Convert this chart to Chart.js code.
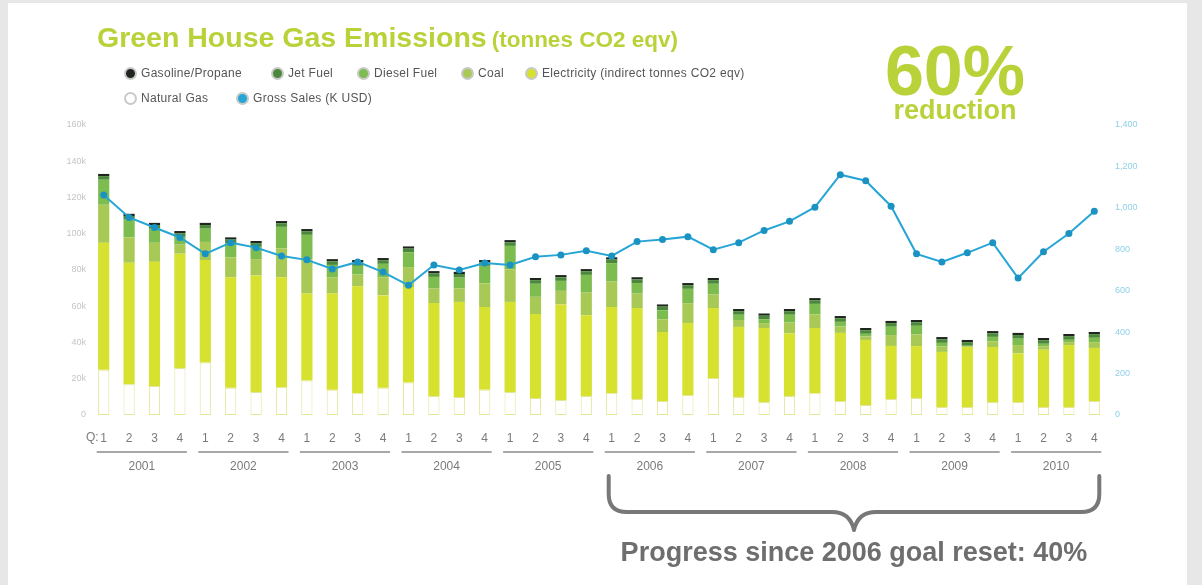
<!DOCTYPE html>
<html>
<head>
<meta charset="utf-8">
<title>Green House Gas Emissions</title>
<script src="https://cdn.jsdelivr.net/npm/chart.js@4.4.1/dist/chart.umd.min.js"></script>
<style>
  body { margin: 0; width: 1202px; height: 585px; background: #e7e7e7; overflow: hidden; font-family: "Liberation Sans", Arial, sans-serif; position: relative; }
  #tarjeta { position: absolute; left: 8px; top: 3px; width: 1179px; height: 582px; background: #fff; }
  #grafico { position: absolute; left: 0; top: 0; }
  .titulo { position: absolute; left: 97px; top: 21px; color: #b9d23a; font-weight: bold; font-size: 28.5px; white-space: nowrap; }
  .titulo small { font-size: 22.5px; margin-left: 5px; }
  .grande { position: absolute; left: 870px; width: 170px; text-align: center; color: #b9d23a; font-weight: bold; white-space: nowrap; }
  #leyenda .item { position: absolute; display: flex; align-items: center; font-size: 12px; letter-spacing: 0.3px; color: #555; white-space: nowrap; }
  #leyenda .marca { width: 9px; height: 9px; border-radius: 50%; border: 2px solid #c9c9c9; margin-right: 4px; box-sizing: content-box; }
</style>
</head>
<body>
<div id="tarjeta"></div>
<canvas id="grafico" width="1202" height="585"></canvas>
<div class="titulo">Green House Gas Emissions<small>(tonnes CO2 eqv)</small></div>
<div class="grande" style="top:36px;font-size:70px;line-height:70px;">60%</div>
<div class="grande" style="top:97px;font-size:27px;line-height:27px;">reduction</div>
<div id="leyenda"></div>

<script>
// datos (miles de toneladas CO2 eqv por trimestre, 2001 Q1 .. 2010 Q4)
var anios = ['2001', '2002', '2003', '2004', '2005', '2006', '2007', '2008', '2009', '2010'];
var trimestres = ['1', '2', '3', '4'];

var gasNatural = [25, 17, 16, 26, 29, 15, 12.7, 15.5, 19, 14, 12, 15, 18, 10.5, 10, 14, 12.7, 9.4, 8.3, 10.5,
  12, 8.8, 7.7, 11, 20.4, 10, 7.2, 10.5, 12, 7.7, 5.5, 8.8, 9.4, 4.4, 4.4, 7.2, 7.2, 4.4, 4.4, 7.7];
var electricidad = [70, 67, 68.5, 63, 56.5, 61, 64.3, 60.5, 48, 53, 59, 51, 52.6, 51.3, 52.4, 45.6, 49.7, 46.3, 52.7, 44.5,
  47.6, 50.2, 38.1, 39.7, 38.6, 38.6, 40.8, 34.5, 36, 37.6, 35.9, 29.3, 28.6, 30.4, 33.1, 30.3, 26.8, 31.6, 34.2, 29.3];
var carbon = [21, 14, 10.5, 5, 10, 11, 9, 16, 19, 9, 6.5, 10, 11, 8, 7.5, 13, 18, 9.5, 7.5, 12.5,
  14, 8, 7, 11, 7.5, 3.8, 2.7, 6, 7.5, 3.5, 2, 6, 6.5, 3, 0.4, 3.2, 4.6, 1.9, 1.6, 3.2];
var diesel = [13.8, 9.8, 7.8, 4.3, 7.3, 7.8, 6.8, 11.8, 13.4, 6.8, 4.8, 7.4, 8.2, 6.4, 5.9, 9.7, 12.9, 7.2, 5.5, 9.8,
  10.2, 5.8, 5, 7.9, 5.9, 2.9, 2.1, 4.3, 5.8, 2.6, 1.4, 4.6, 4.7, 2, 0.3, 2.4, 3.5, 1.4, 1.3, 2.4];
var combustibleAvion = [2, 2, 2, 2, 2, 2, 2, 2, 2, 2, 2, 2, 2, 2, 2, 2, 2, 2, 2, 2,
  2, 2, 2, 2, 2, 2, 2, 2, 2, 2, 2, 2, 2, 2, 2, 2, 2, 2, 2, 2];
var gasolina = [1.2, 1.2, 1.2, 1.2, 1.2, 1.2, 1.2, 1.2, 1.2, 1.2, 1.2, 1.2, 1.2, 1.2, 1.2, 1.2, 1.2, 1.2, 1.2, 1.2,
  1.2, 1.2, 1.2, 1.2, 1.2, 1.2, 1.2, 1.2, 1.2, 1.2, 1.2, 1.2, 1.2, 1.2, 1.2, 1.2, 1.2, 1.2, 1.2, 1.2];
// ventas brutas (K USD), eje derecho
var ventasBrutas = [1062, 954, 905, 857, 778, 832, 808, 768, 749, 705, 739, 690, 626, 724, 700, 734, 724, 764, 773, 793,
  768, 837, 847, 861, 798, 832, 891, 935, 1003, 1160, 1131, 1008, 778, 739, 783, 832, 661, 788, 876, 984];

var ticksIzquierda = ['0', '20k', '40k', '60k', '80k', '100k', '120k', '140k', '160k'];
var ticksDerecha = ['0', '200', '400', '600', '800', '1,000', '1,200', '1,400'];

var textoProgreso = 'Progress since 2006 goal reset: 40%';

// etiquetas del eje x: 1 2 3 4 por cada año
var etiquetas = [];
anios.forEach(function (a) {
  trimestres.forEach(function (t) { etiquetas.push(t); });
});

var colores = {
  gasolina: '#1e261e',
  avion: '#4b883b',
  diesel: '#7dbc4e',
  carbon: '#a9c957',
  electricidad: '#d7e12f',
  gasNatural: '#ffffff',
  ventas: '#27a6d6'
};

// leyenda en html (posiciones a mano para que coincida con la imagen)
var itemsLeyenda = [
  { texto: 'Gasoline/Propane', color: colores.gasolina, x: 124, y: 66 },
  { texto: 'Jet Fuel', color: colores.avion, x: 271, y: 66 },
  { texto: 'Diesel Fuel', color: colores.diesel, x: 357, y: 66 },
  { texto: 'Coal', color: colores.carbon, x: 461, y: 66 },
  { texto: 'Electricity (indirect tonnes CO2 eqv)', color: colores.electricidad, x: 525, y: 66 },
  { texto: 'Natural Gas', color: colores.gasNatural, x: 124, y: 91 },
  { texto: 'Gross Sales (K USD)', color: colores.ventas, x: 236, y: 91 }
];
var leyenda = document.getElementById('leyenda');
itemsLeyenda.forEach(function (it) {
  var d = document.createElement('div');
  d.className = 'item';
  d.style.left = it.x + 'px';
  d.style.top = it.y + 'px';
  d.innerHTML = '<span class="marca" style="background:' + it.color + '"></span>' + it.texto;
  leyenda.appendChild(d);
});

// años, llave y texto de progreso debajo del eje x
var pluginAnios = {
  id: 'pluginAnios',
  afterDraw: function (chart) {
    var ctx = chart.ctx;
    var x = chart.scales.x;
    ctx.save();
    ctx.fillStyle = '#7a7a7a';
    ctx.font = '12px "Liberation Sans", Arial, sans-serif';
    ctx.textBaseline = 'middle';
    ctx.textAlign = 'right';
    ctx.fillText('Q:', x.getPixelForValue(0) - 5, 438);

    ctx.textAlign = 'center';
    ctx.strokeStyle = '#a8a8a8';
    ctx.lineWidth = 2;
    anios.forEach(function (a, i) {
      var x1 = x.getPixelForValue(i * 4) - 7;
      var x2 = x.getPixelForValue(i * 4 + 3) + 7;
      ctx.beginPath();
      ctx.moveTo(x1, 452);
      ctx.lineTo(x2, 452);
      ctx.stroke();
      ctx.fillText(a, (x1 + x2) / 2, 467);
    });

    // llave desde 2006 Q1 hasta 2010 Q4
    var izq = x.getPixelForValue(20) - 3;
    var der = x.getPixelForValue(39) + 5;
    var medio = (izq + der) / 2;
    ctx.strokeStyle = '#787878';
    ctx.lineWidth = 4;
    ctx.lineCap = 'round';
    ctx.lineJoin = 'round';
    ctx.beginPath();
    ctx.moveTo(izq, 476);
    ctx.lineTo(izq, 494);
    ctx.quadraticCurveTo(izq, 512, izq + 18, 512);
    ctx.lineTo(medio - 22, 512);
    ctx.quadraticCurveTo(medio - 4, 512, medio, 530);
    ctx.quadraticCurveTo(medio + 4, 512, medio + 22, 512);
    ctx.lineTo(der - 18, 512);
    ctx.quadraticCurveTo(der, 512, der, 494);
    ctx.lineTo(der, 476);
    ctx.stroke();

    ctx.fillStyle = '#6e6e6e';
    ctx.font = 'bold 27px "Liberation Sans", Arial, sans-serif';
    ctx.fillText(textoProgreso, medio, 554);
    ctx.restore();
  }
};

var barra = function (label, data, color, extra) {
  var d = {
    type: 'bar',
    label: label,
    data: data,
    backgroundColor: color,
    borderWidth: 0,
    stack: 'emisiones',
    yAxisID: 'y',
    order: 1,
    categoryPercentage: 1,
    barPercentage: 0.44
  };
  return Object.assign(d, extra || {});
};

var ctx = document.getElementById('grafico').getContext('2d');
var chart = new Chart(ctx, {
  data: {
    labels: etiquetas,
    datasets: [
      {
        type: 'line',
        label: 'Gross Sales (K USD)',
        data: ventasBrutas,
        yAxisID: 'y1',
        order: 0,
        borderColor: colores.ventas,
        backgroundColor: '#1b93c2',
        borderWidth: 2,
        pointRadius: 3.5,
        pointBorderWidth: 0,
        tension: 0
      },
      barra('Natural Gas', gasNatural, colores.gasNatural, { borderColor: '#e2e696', borderWidth: 1, borderSkipped: false }),
      barra('Electricity (indirect tonnes CO2 eqv)', electricidad, colores.electricidad),
      barra('Coal', carbon, colores.carbon),
      barra('Diesel Fuel', diesel, colores.diesel),
      barra('Jet Fuel', combustibleAvion, colores.avion),
      barra('Gasoline/Propane', gasolina, colores.gasolina)
    ]
  },
  options: {
    responsive: false,
    animation: false,
    layout: { padding: { top: 125, left: 0, right: 0, bottom: 0 } },
    plugins: { legend: { display: false }, tooltip: { enabled: false } },
    scales: {
      x: {
        stacked: true,
        grid: { display: false, drawTicks: false },
        border: { display: false },
        ticks: { color: '#7a7a7a', padding: 16, maxRotation: 0, autoSkip: false, font: { size: 12, family: '"Liberation Sans", Arial, sans-serif' } },
        afterFit: function (s) { s.height = 170; }
      },
      y: {
        position: 'left',
        stacked: true,
        min: 0,
        max: 160,
        grid: { display: false, drawTicks: false },
        border: { display: false },
        ticks: {
          stepSize: 20,
          padding: 5,
          color: '#c4c4c4',
          font: { size: 9, family: '"Liberation Sans", Arial, sans-serif' },
          callback: function (v) { return ticksIzquierda[v / 20]; }
        },
        afterFit: function (s) { s.width = 91; }
      },
      y1: {
        position: 'right',
        stacked: false,
        min: 0,
        max: 1400,
        grid: { display: false, drawTicks: false },
        border: { display: false },
        ticks: {
          stepSize: 200,
          padding: 8,
          color: '#8fd0e8',
          font: { size: 9, family: '"Liberation Sans", Arial, sans-serif' },
          callback: function (v) { return ticksDerecha[v / 200]; }
        },
        afterFit: function (s) { s.width = 95; }
      }
    }
  },
  plugins: [pluginAnios]
});
</script>
</body>
</html>
